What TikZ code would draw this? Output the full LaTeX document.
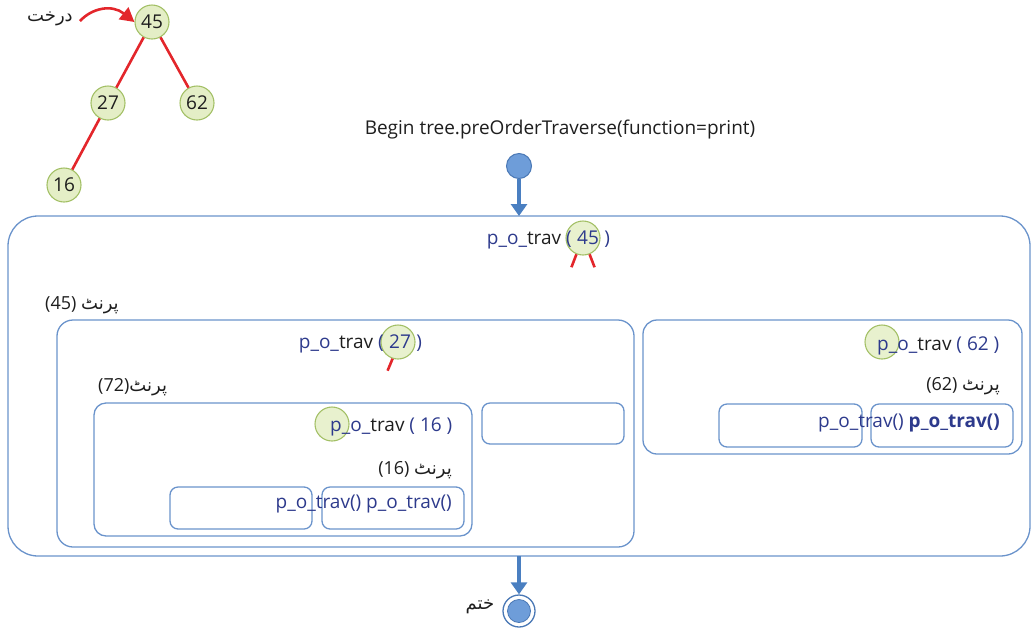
\documentclass[tikz,border=0pt]{standalone}
\usepackage{fontspec}
\setmainfont{Open Sans}
\newfontfamily\arabicfont[Script=Arabic]{DejaVu Sans}
\TeXXeTstate=1
\usetikzlibrary{arrows.meta}

\definecolor{framec}{HTML}{6A93CB}
\definecolor{flowc}{HTML}{4A7FC1}
\definecolor{balld}{HTML}{4A78B5}
\definecolor{balll}{HTML}{6E9DD9}
\definecolor{leafl}{HTML}{E4EEC6}
\definecolor{leafd}{HTML}{A3C066}
\definecolor{edgec}{HTML}{E3262B}
\definecolor{callc}{HTML}{2D3A8C}
\definecolor{inkc}{HTML}{1E1E1E}

\tikzset{
  txt/.style={inner sep=0pt, font=\fontsize{19}{22}\selectfont, text=inkc},
  urdu/.style={inner sep=0pt, font=\fontsize{18}{22}\selectfont, text=inkc},
  leaf/.style={circle, draw=leafd, fill=leafl, line width=1.1pt, minimum size=34pt, inner sep=0pt,
    font=\fontsize{19}{22}\selectfont, text=inkc},
  keyball/.style={circle, draw=leafd, fill=leafl, fill opacity=0.85, line width=1.1pt, minimum size=34pt, inner sep=0pt},
  treeedge/.style={draw=edgec, line width=2.6pt},
  framebox/.style={draw=framec, line width=1.3pt, inner sep=0pt, outer sep=0pt, anchor=north west},
  flow/.style={draw=flowc, line width=4.5pt, -{Triangle[length=12pt,width=16pt]}},
}

\begin{document}
\begin{tikzpicture}[x=1pt,y=-1pt]
\useasboundingbox (0,0) rectangle (1032,630);

% the tree
\node[leaf] (n45) at (152,22) {45};
\node[leaf] (n27) at (108,103) {27};
\node[leaf] (n62) at (197,103) {62};
\node[leaf] (n16) at (64,185) {16};
\draw[treeedge] (n45) -- (n27);
\draw[treeedge] (n45) -- (n62);
\draw[treeedge] (n27) -- (n16);

\node[urdu] (treelbl) at (50,19) {\arabicfont\beginR درخت\endR};
\coordinate (treearr) at (80,21);
\draw[draw=edgec, line width=2.6pt, -{Triangle[length=14pt,width=15pt]}]
  (treearr) .. controls (92,8) and (112,4) .. (n45.west);

% start of the traversal
\node[txt] (begin) at (560,130) {Begin tree.preOrderTraverse(function=print)};
\node[circle, draw=balld, fill=balll, line width=1pt, minimum size=25pt, inner sep=0pt] (start) at (519,166) {};

% call for 45
\node[framebox, minimum width=1022pt, minimum height=340pt, rounded corners=30pt] (outer) at (8,216) {};
\node[keyball] (m45) at (583,238) {};
\draw[treeedge] (m45.-112) -- ++(-5,13);
\draw[treeedge] (m45.-68) -- ++(5,13);
\node[txt, text=callc] (num45) at (588,238) {45};
\node[txt, anchor=base east] (call45) at ([xshift=-5pt]num45.base west)
  {\textcolor{callc}{p\_o\_}trav \textcolor{callc}{(}};
\node[txt, anchor=base west, text=callc] (close45) at ([xshift=5pt]num45.base east) {)};
\node[urdu, anchor=base west] (print45) at (45,309) {(45) {\arabicfont\beginR پرنٹ\endR}};

% call for 27
\node[framebox, minimum width=577pt, minimum height=227pt, rounded corners=16pt] (b27) at (57,320) {};
\node[keyball] (m27) at (398,342) {};
\draw[treeedge] (m27.-108) -- ++(-5,12);
\node[txt, text=callc] (num27) at (400,342) {27};
\node[txt, anchor=base east] (call27) at ([xshift=-5pt]num27.base west)
  {\textcolor{callc}{p\_o\_}trav \textcolor{callc}{(}};
\node[txt, anchor=base west, text=callc] (close27) at ([xshift=5pt]num27.base east) {)};
\node[urdu, anchor=base west] (print27) at (98,391) {(72){\arabicfont\beginR پرنٹ\endR}};
\node[framebox, minimum width=142pt, minimum height=41pt, rounded corners=8pt] (e27) at (482,403) {};

% call for 16
\node[framebox, minimum width=378pt, minimum height=133pt, rounded corners=12pt] (b16) at (94,403) {};
\node[keyball] (m16) at (332,424) {};
\node[txt, anchor=base west] (call16) at (330,431)
  {\textcolor{callc}{p\_o\_}trav \textcolor{callc}{( 16 )}};
\node[urdu, anchor=base east] (print16) at (452,474) {(16) {\arabicfont\beginR پرنٹ\endR}};
\node[framebox, minimum width=142pt, minimum height=42pt, rounded corners=8pt] (l16) at (170,487) {};
\node[framebox, minimum width=142pt, minimum height=42pt, rounded corners=8pt] (r16) at (322,487) {};
\node[txt, anchor=base east, text=callc] (kids16) at (452,508) {p\_o\_trav() p\_o\_trav()};

% call for 62
\node[framebox, minimum width=379pt, minimum height=134pt, rounded corners=14pt] (b62) at (643,320) {};
\node[keyball] (m62) at (882,342) {};
\node[txt, anchor=base west] (call62) at (877,350)
  {\textcolor{callc}{p\_o\_}trav \textcolor{callc}{( 62 )}};
\node[urdu, anchor=base east] (print62) at (1000,390) {(62) {\arabicfont\beginR پرنٹ\endR}};
\node[framebox, minimum width=143pt, minimum height=43pt, rounded corners=8pt] (l62) at (719,404) {};
\node[framebox, minimum width=142pt, minimum height=43pt, rounded corners=8pt] (r62) at (871,404) {};
\node[txt, anchor=base east, text=callc] (kids62) at (1000,427) {p\_o\_trav() \textbf{p\_o\_trav()}};

% end of the traversal
\node[circle, draw=balld, fill=white, line width=1.3pt, minimum size=32pt, inner sep=0pt] (finish) at (519,611) {};
\node[circle, draw=balld, fill=balll, line width=0.8pt, minimum size=23pt, inner sep=0pt] (finishdot) at (finish.center) {};
\node[urdu] (endlbl) at (480,607) {\arabicfont\beginR ختم\endR};

\draw[flow] (start) -- (outer.north);
\draw[flow] (outer.south) -- (finish.north);
\end{tikzpicture}
\end{document}
